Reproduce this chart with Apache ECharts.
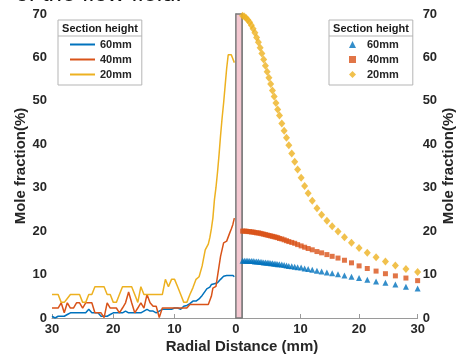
<!DOCTYPE html>
<html><head><meta charset="utf-8">
<script src="https://cdn.jsdelivr.net/npm/echarts@6/dist/echarts.min.js"></script>
<style>html,body{margin:0;padding:0;background:#fff}#c{width:457px;height:356px}</style>
</head><body><div id="c"></div>
<script>
// ---- Left panel: measured profiles (radial distance, mm) ----
const LX = [30,29.5,29,28.5,28,27.5,27,26.5,26,25.5,25,24.5,24,23.5,23,22.5,22,21.5,21,20.5,20,19.5,19,18.5,18,17.5,17,16.5,16,15.5,15,14.5,14,13.5,13,12.5,12,11.5,11,10.5,10,9.5,9,8.5,8,7.5,7,6.5,6,5.5,5,4.75,4.5,4.25,4,3.75,3.5,3.25,3,2.75,2.5,2.25,2,1.75,1.5,1.25,1,0.75,0.5,0.25];
const L60 = [0.4,0.0,0.4,0.4,0.4,0.8,1.2,1.2,1.2,1.2,1.2,1.2,2.0,1.2,1.2,1.2,0.4,0.4,0.4,0.8,1.2,1.2,1.2,1.2,1.6,1.2,1.2,1.2,1.2,1.2,1.6,2.0,1.6,1.6,1.2,1.6,2.0,2.0,2.0,2.0,2.3,2.3,2.0,2.7,2.9,3.3,3.9,3.9,4.4,5.2,6.2,6.7,6.7,7.1,7.7,7.7,7.9,8.1,8.1,8.5,8.9,9.2,9.6,9.7,9.8,9.8,9.8,9.8,9.8,9.5];
const L40 = [2.3,2.3,2.3,3.5,1.2,3.5,2.3,2.3,3.5,3.5,2.3,3.5,3.5,3.5,1.2,1.2,1.2,0.1,3.5,2.3,2.3,2.3,1.2,2.3,3.5,6.0,3.5,1.2,2.3,3.5,2.3,5.4,3.5,2.7,2.7,0.1,2.3,2.3,2.3,2.3,2.3,2.3,2.3,2.3,2.3,3.1,3.1,3.1,3.1,3.1,3.1,3.1,3.1,3.1,5.0,6.9,7.3,7.3,9.6,11.9,14.2,14.2,17.3,17.3,17.7,17.7,19.6,20.5,21.5,23.0];
const L20 = [5.4,5.4,5.4,3.6,3.6,4.5,5.4,5.4,5.4,5.4,3.6,3.6,5.4,5.4,7.2,7.2,7.2,7.2,5.4,5.4,3.6,3.6,5.4,7.2,7.2,7.2,7.2,5.4,3.6,7.2,5.4,5.4,5.4,5.4,5.4,5.4,5.4,8.9,7.2,8.9,8.9,7.2,5.4,3.6,3.6,5.4,7.0,8.9,9.5,12.0,15.7,15.7,17.0,18.5,20.5,23.0,27.2,30.0,33.5,37.5,42.0,46.0,49.5,53.5,57.5,60.6,60.6,60.6,60.4,58.8];

// ---- Right panel: simulated profiles ----
const RX = [0.1,0.4,0.7,1.0,1.3,1.6,1.9,2.2,2.5,2.8,3.1,3.4,3.7,4.0,4.3,4.6,4.9,5.2,5.5,5.8,6.1,6.4,6.8,7.2,7.6,8.0,8.5,9.0,9.5,10.1,10.7,11.3,12.0,12.8,13.6,14.5,15.4,16.4,17.5,18.7,20.0,21.4,22.9,24.5,26.2,28.0,30.0];
const R60 = [13.2,13.2,13.2,13.2,13.1,13.1,13.1,13.0,13.0,13.0,12.9,12.9,12.8,12.8,12.7,12.7,12.6,12.6,12.5,12.5,12.4,12.4,12.3,12.2,12.1,12.0,11.9,11.8,11.7,11.6,11.4,11.3,11.1,10.9,10.7,10.5,10.3,10.1,9.8,9.5,9.2,8.8,8.4,8.1,7.7,7.2,6.8];
const R40 = [20.0,20.0,20.0,19.9,19.9,19.8,19.8,19.7,19.6,19.6,19.5,19.4,19.3,19.2,19.1,19.0,18.9,18.8,18.7,18.6,18.5,18.3,18.2,18.0,17.8,17.6,17.4,17.2,16.9,16.6,16.3,16.0,15.7,15.3,15.0,14.6,14.2,13.8,13.3,12.7,12.0,11.4,10.8,10.2,9.7,9.2,8.6];
const R20 = [69.6,69.4,69.1,68.6,68.1,67.4,66.6,65.7,64.6,63.5,62.2,60.9,59.5,58.1,56.7,55.3,53.9,52.4,51.0,49.5,48.0,46.6,44.8,43.1,41.5,39.8,37.9,36.0,34.2,32.3,30.4,28.7,27.0,25.3,23.8,22.4,21.1,19.9,18.6,17.3,16.1,15.0,14.0,13.0,12.1,11.3,10.6];

const X_TICKS = [0,10,20,30];
const NAMES = ['60mm','40mm','20mm'];
const COLORS = ['#0072BD','#D95319','#EDB120'];

const FONT = 'Liberation Sans, Arial, sans-serif';
const TXT = '#262626';
const AX = '#9a9a9a';

const pair = (xs, ys) => xs.map((x, i) => [x, ys[i]]);
const chart = echarts.init(document.getElementById('c'), null, {renderer: 'canvas'});

const yBase = {
  type: 'value', min: 0, max: 70, interval: 10,
  axisLine: {show: true, lineStyle: {color: AX, width: 1}},
  axisTick: {show: true, inside: true, length: 4, lineStyle: {color: AX}},
  splitLine: {show: false},
  axisLabel: {color: TXT, fontFamily: FONT, fontWeight: 'bold', fontSize: 13, margin: 5},
  name: 'Mole fraction(%)', nameLocation: 'middle',
  nameTextStyle: {color: TXT, fontFamily: FONT, fontWeight: 'bold', fontSize: 15}
};

const option = {
  animation: false,
  backgroundColor: '#fff',
  grid: [
    {left: 52, top: 14, width: 190, height: 304},
    {left: 242, top: 14, width: 177, height: 304}
  ],
  xAxis: [
    {gridIndex: 0, type: 'value', inverse: true, min: -1, max: 30,
     axisLine: {lineStyle: {color: AX}},
     axisTick: {inside: true, length: 4, customValues: X_TICKS, lineStyle: {color: AX}},
     splitLine: {show: false},
     axisLabel: {customValues: X_TICKS, color: TXT, fontFamily: FONT, fontWeight: 'bold', fontSize: 13, margin: 5}},
    {gridIndex: 1, type: 'value', min: 0, max: 30,
     axisLine: {lineStyle: {color: AX}},
     axisTick: {inside: true, length: 4, customValues: X_TICKS.slice(1), lineStyle: {color: AX}},
     splitLine: {show: false},
     axisLabel: {customValues: X_TICKS.slice(1), color: TXT, fontFamily: FONT, fontWeight: 'bold', fontSize: 13, margin: 5}}
  ],
  yAxis: [
    Object.assign({}, yBase, {gridIndex: 0, position: 'left', nameGap: 18}),
    Object.assign({}, yBase, {gridIndex: 1, position: 'right', nameGap: 22})
  ],
  legend: [
    {data: NAMES, left: 58, top: 20, orient: 'vertical', icon: 'rect',
     padding: [18, 10, 4, 12], itemGap: 2, itemWidth: 25, itemHeight: 2,
     borderColor: '#b5b5b5', borderWidth: 1, backgroundColor: '#fff',
     textStyle: {color: TXT, fontFamily: FONT, fontWeight: 'bold', fontSize: 11, lineHeight: 13}},
    {data: NAMES.map(n => 'R' + n), left: 329, top: 20, orient: 'vertical',
     formatter: n => n.slice(1),
     padding: [18, 14, 4, 20], itemGap: 2, itemWidth: 7, itemHeight: 7,
     borderColor: '#b5b5b5', borderWidth: 1, backgroundColor: '#fff',
     textStyle: {color: TXT, fontFamily: FONT, fontWeight: 'bold', fontSize: 11, lineHeight: 13, padding: [0, 0, 0, 6]}}
  ],
  graphic: [
    {type: 'text', x: 100, y: 29, z: 100, style: {text: 'Section height', font: 'bold 11px ' + FONT, fill: '#1a1a1a', align: 'center', verticalAlign: 'middle'}},
    {type: 'line', z: 100, shape: {x1: 58, y1: 36, x2: 142, y2: 36}, style: {stroke: '#b5b5b5', lineWidth: 1}},
    {type: 'text', x: 371, y: 29, z: 100, style: {text: 'Section height', font: 'bold 11px ' + FONT, fill: '#1a1a1a', align: 'center', verticalAlign: 'middle'}},
    {type: 'line', z: 100, shape: {x1: 329, y1: 36, x2: 413, y2: 36}, style: {stroke: '#b5b5b5', lineWidth: 1}},
    {type: 'text', x: 242, y: 347, style: {text: 'Radial Distance (mm)', font: 'bold 15px ' + FONT, fill: TXT, align: 'center', verticalAlign: 'middle'}},
    {type: 'text', x: 182, y: 6, style: {text: 'of the flow field.', font: '24px ' + FONT, fill: '#111', align: 'right', verticalAlign: 'bottom'}}
  ],
  series: [
    {name: NAMES[0], type: 'line', xAxisIndex: 0, yAxisIndex: 0, symbol: 'none', data: pair(LX, L60),
     lineStyle: {color: COLORS[0], width: 1.5}, itemStyle: {color: COLORS[0]},
     markArea: {silent: true, itemStyle: {color: '#f4c8d1', borderColor: '#7a7a7a', borderWidth: 1.5},
       data: [[{xAxis: -1}, {xAxis: 0}]]}},
    {name: NAMES[1], type: 'line', xAxisIndex: 0, yAxisIndex: 0, symbol: 'none', data: pair(LX, L40),
     lineStyle: {color: COLORS[1], width: 1.5}, itemStyle: {color: COLORS[1]}},
    {name: NAMES[2], type: 'line', xAxisIndex: 0, yAxisIndex: 0, symbol: 'none', data: pair(LX, L20),
     lineStyle: {color: COLORS[2], width: 1.5}, itemStyle: {color: COLORS[2]}},
    {name: 'R' + NAMES[0], type: 'scatter', xAxisIndex: 1, yAxisIndex: 1, symbol: 'triangle', symbolSize: [6, 6],
     data: pair(RX, R60), itemStyle: {color: COLORS[0]}},
    {name: 'R' + NAMES[1], type: 'scatter', xAxisIndex: 1, yAxisIndex: 1, symbol: 'rect', symbolSize: [5, 5],
     data: pair(RX, R40), itemStyle: {color: COLORS[1]}},
    {name: 'R' + NAMES[2], type: 'scatter', xAxisIndex: 1, yAxisIndex: 1, symbol: 'diamond', symbolSize: [7, 8],
     data: pair(RX, R20), itemStyle: {color: COLORS[2]}}
  ]
};
chart.setOption(option);
</script>
</body></html>
